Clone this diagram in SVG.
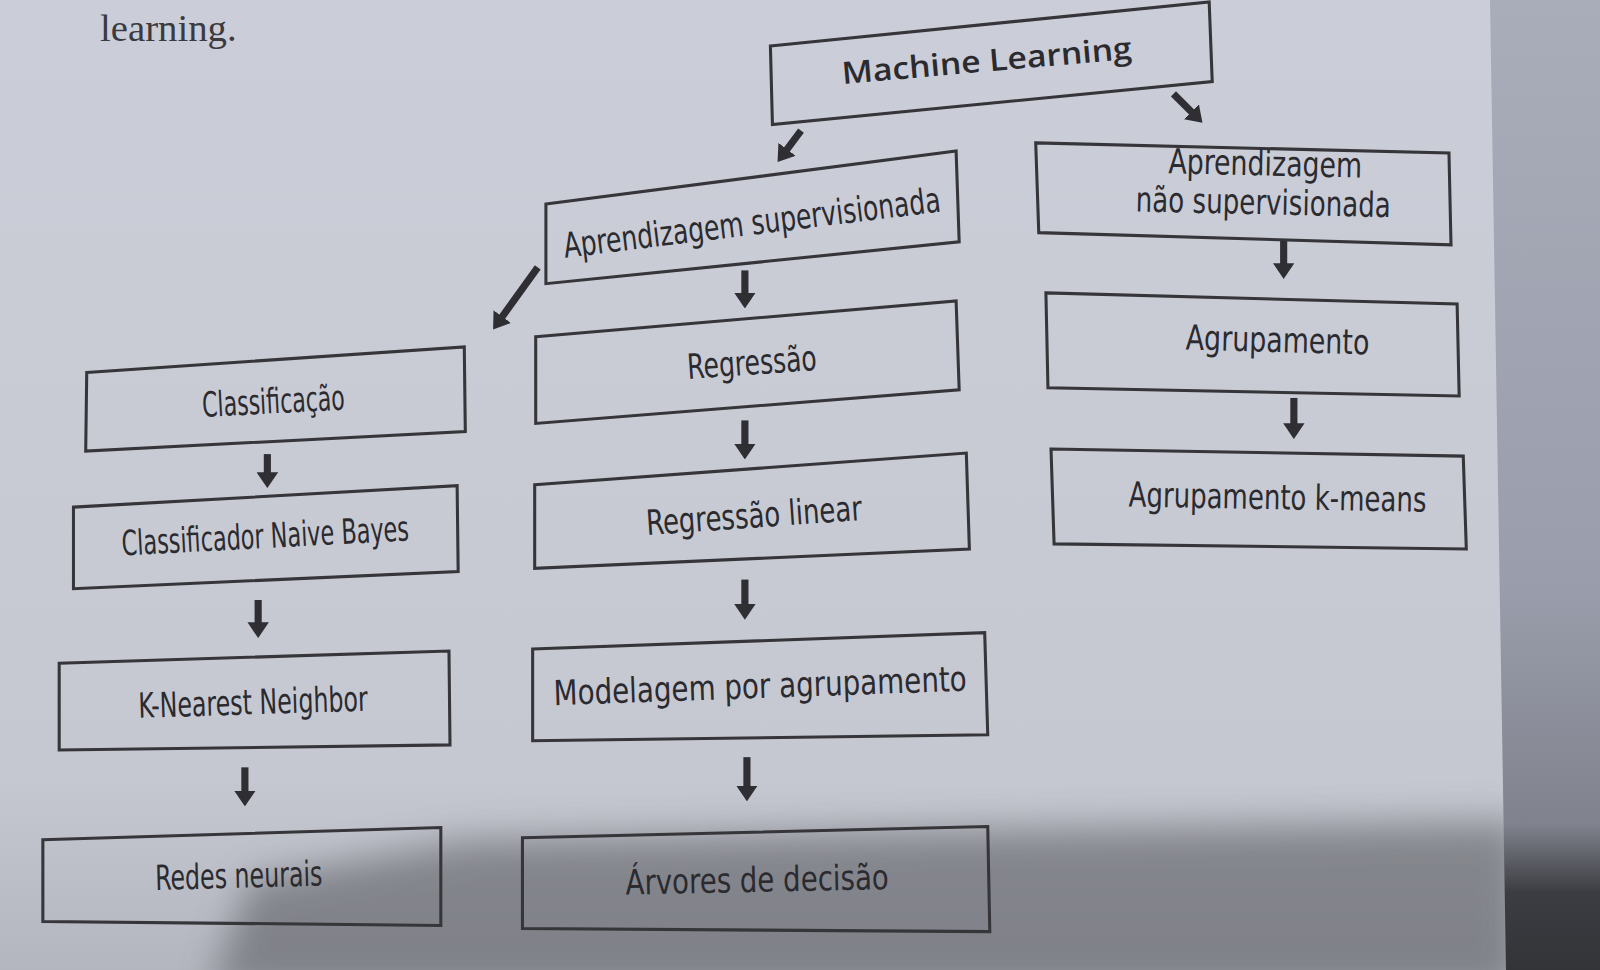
<svg xmlns="http://www.w3.org/2000/svg" width="1600" height="970" viewBox="0 0 1600 970">
<defs>
<style>
.box{fill:none;stroke:#35353a;stroke-width:3;stroke-linejoin:miter}
.t{font-family:"Liberation Sans Narrow","DejaVu Sans Condensed","Liberation Sans",sans-serif;font-size:34px;fill:#2a2a2f;text-anchor:middle}
.ml{font-family:"Open Sans","Liberation Sans","DejaVu Sans",sans-serif;font-size:30px;fill:#2a2a2f;text-anchor:middle;font-weight:600}
.c line{stroke:#2f2f33;stroke-width:7;marker-end:url(#ah)}
</style>
<marker id="ah" viewBox="0 0 2.2 3" refX="0.3" refY="1.5" markerWidth="2.2" markerHeight="3" markerUnits="strokeWidth" orient="auto">
<path d="M0,0 L2.2,1.5 L0,3 z" fill="#2f2f33"/>
</marker>
<linearGradient id="bg" x1="0" y1="0" x2="0" y2="1">
<stop offset="0" stop-color="#cbced8"/>
<stop offset="0.8" stop-color="#c6c8d1"/>
<stop offset="1" stop-color="#b4b6bf"/>
</linearGradient>
<linearGradient id="edge" x1="0" y1="0" x2="0" y2="1">
<stop offset="0" stop-color="#a9adba"/>
<stop offset="0.6" stop-color="#9a9eac"/>
<stop offset="0.85" stop-color="#80838d"/>
<stop offset="0.92" stop-color="#3c3d42"/>
<stop offset="1" stop-color="#333438"/>
</linearGradient>
<filter id="blur" x="-10%" y="-30%" width="120%" height="160%">
<feGaussianBlur stdDeviation="18"/>
</filter>
</defs>
<rect width="1600" height="970" fill="url(#bg)"/>
<polygon points="210,990 250,880 470,840 980,830 1520,822 1520,990" fill="#55565c" opacity="0.55" filter="url(#blur)"/>
<polygon points="1490,0 1600,0 1600,970 1506,970" fill="url(#edge)"/>

<g transform="scale(1.0204)">
<text x="98" y="40" font-family="Liberation Serif,serif" font-size="38" fill="#3a3a40">learning.</text>

<g class="c" id="connectors">
<line x1="785" y1="128" x2="770" y2="148"/>
<line x1="1150" y1="92" x2="1169" y2="111"/>
<line x1="527" y1="262" x2="491" y2="312"/>
<line x1="730" y1="265" x2="730" y2="289"/>
<line x1="730" y1="412" x2="730" y2="437"/>
<line x1="730" y1="568" x2="730" y2="594"/>
<line x1="732" y1="742" x2="732" y2="772"/>
<line x1="1258" y1="235" x2="1258" y2="260"/>
<line x1="1268" y1="390" x2="1268" y2="417"/>
<line x1="262" y1="445" x2="262" y2="465"/>
<line x1="253" y1="588" x2="253" y2="612"/>
<line x1="240" y1="752" x2="240" y2="777"/>
</g>

<g id="machine-learning">
<polygon class="box" points="755,45 1185,2 1188,80 757,122"/>
<text class="ml" x="967" y="70" textLength="285" lengthAdjust="spacingAndGlyphs" transform="rotate(-5 967 60)">Machine Learning</text>
</g>
<g id="aprendizagem-supervisionada">
<polygon class="box" points="535,200 937,148 940,237 535,278"/>
<text class="t" x="737" y="230" textLength="372" lengthAdjust="spacingAndGlyphs" transform="rotate(-7 737 220)">Aprendizagem supervisionada</text>
</g>
<g id="aprendizagem-nao-supervisionada">
<polygon class="box" points="1015,140 1420,150 1422,240 1018,228"/>
<text class="t" x="1240" y="172" textLength="190" lengthAdjust="spacingAndGlyphs" transform="rotate(1.3 1240 162)">Aprendizagem</text>
<text class="t" x="1238" y="210" textLength="250" lengthAdjust="spacingAndGlyphs" transform="rotate(1.3 1238 200)">não supervisionada</text>
</g>
<g id="regressao">
<polygon class="box" points="525,330 937,295 940,382 525,415"/>
<text class="t" x="737" y="367" textLength="127" lengthAdjust="spacingAndGlyphs" transform="rotate(-4 737 357)">Regressão</text>
</g>
<g id="classificacao">
<polygon class="box" points="85,365 455,340 456,423 84,442"/>
<text class="t" x="268" y="405" textLength="140" lengthAdjust="spacingAndGlyphs" transform="rotate(-3 268 395)">Classificação</text>
</g>
<g id="agrupamento">
<polygon class="box" points="1025,287 1428,298 1430,388 1027,380"/>
<text class="t" x="1252" y="345" textLength="180" lengthAdjust="spacingAndGlyphs" transform="rotate(1.5 1252 335)">Agrupamento</text>
</g>
<g id="naive-bayes">
<polygon class="box" points="72,497 448,476 449,560 72,577"/>
<text class="t" x="260" y="537" textLength="282" lengthAdjust="spacingAndGlyphs" transform="rotate(-3 260 527)">Classificador Naive Bayes</text>
</g>
<g id="regressao-linear">
<polygon class="box" points="524,475 947,444 950,538 524,557"/>
<text class="t" x="739" y="517" textLength="212" lengthAdjust="spacingAndGlyphs" transform="rotate(-4 739 507)">Regressão linear</text>
</g>
<g id="kmeans">
<polygon class="box" points="1030,440 1434,447 1437,538 1033,533"/>
<text class="t" x="1252" y="499" textLength="292" lengthAdjust="spacingAndGlyphs" transform="rotate(1 1252 489)">Agrupamento k-means</text>
</g>
<g id="knn">
<polygon class="box" points="58,650 440,638 441,730 58,735"/>
<text class="t" x="248" y="700" textLength="225" lengthAdjust="spacingAndGlyphs" transform="rotate(-1.8 248 690)">K-Nearest Neighbor</text>
</g>
<g id="modelagem">
<polygon class="box" points="522,636 965,620 968,720 522,726"/>
<text class="t" x="745" y="684" textLength="405" lengthAdjust="spacingAndGlyphs" transform="rotate(-2 745 674)">Modelagem por agrupamento</text>
</g>
<g id="redes-neurais">
<polygon class="box" points="42,823 432,811 432,907 42,903"/>
<text class="t" x="234" y="870" textLength="164" lengthAdjust="spacingAndGlyphs" transform="rotate(-1.5 234 860)">Redes neurais</text>
</g>
<g id="arvores">
<polygon class="box" points="512,821 968,810 970,913 512,910"/>
<text class="t" x="742" y="874" textLength="258" lengthAdjust="spacingAndGlyphs" transform="rotate(-1.2 742 864)">Árvores de decisão</text>
</g>
</g>
</svg>
